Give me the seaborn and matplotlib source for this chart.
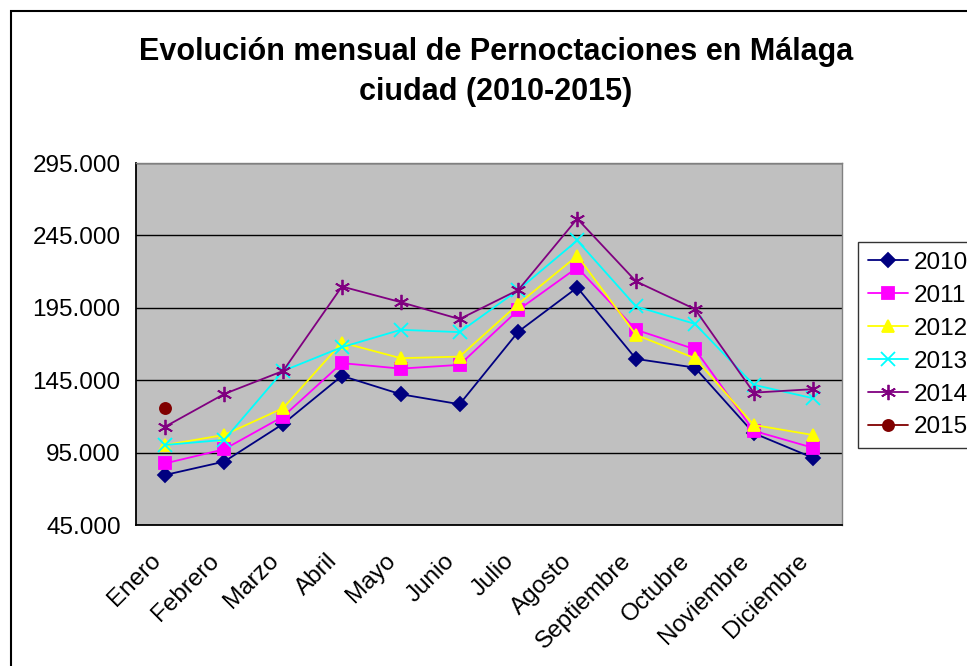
import numpy as np
import pandas as pd
import matplotlib
matplotlib.use('Agg')
import matplotlib.pyplot as plt
import matplotlib.ticker as mticker
import matplotlib.transforms as mtransforms
from matplotlib.patches import Rectangle
import seaborn as sns

# Data (pernoctaciones, in units)
meses = ['Enero', 'Febrero', 'Marzo', 'Abril', 'Mayo', 'Junio', 'Julio',
         'Agosto', 'Septiembre', 'Octubre', 'Noviembre', 'Diciembre']
v2010 = [79600, 88800, 114800, 148000, 135300, 128400, 178600, 209000, 159700, 153700, 108400, 91500]
v2011 = [87600, 97300, 119900, 156800, 153000, 155600, 193600, 222800, 179800, 166400, 110000, 98400]
v2012 = [100300, 107200, 125700, 171000, 160200, 161300, 197700, 230900, 176300, 160200, 114100, 107200]
v2013 = [100300, 103800, 151400, 167800, 179800, 178200, 207400, 241500, 195900, 183900, 141800, 132600]
v2014 = [113000, 135500, 151400, 209700, 198900, 187200, 207400, 256500, 213200, 194100, 136400, 138800]
v2015 = [125700]
years = ['2010', '2011', '2012', '2013', '2014', '2015']
series = [v2010, v2011, v2012, v2013, v2014, v2015]

colors = ['#000080', '#FF00FF', '#FFFF00', '#00FFFF', '#800080', '#800000']
markers = ['D', 's', '^', 'x', (6, 2, 0), 'o']
msizes = [7, 8, 9, 10, 11, 8]

sns.set_style('white')
plt.rcParams['font.family'] = ['Liberation Sans', 'DejaVu Sans']
plt.rcParams['text.color'] = 'black'
plt.rcParams['xtick.color'] = 'black'
plt.rcParams['ytick.color'] = 'black'

fig = plt.figure(figsize=(9.67, 6.66), dpi=100)
ax = fig.add_axes([136 / 967, 1 - 525 / 666, (842 - 136) / 967, (525 - 163) / 666])
ax.set_facecolor('#C0C0C0')

for yr, vals, c, m, ms in zip(years, series, colors, markers, msizes):
    d = pd.DataFrame({'mes': meses[:len(vals)], 'x': np.arange(len(vals)), 'v': vals})
    sns.lineplot(data=d, x='x', y='v', ax=ax, color=c, marker=m, markersize=ms,
                 markeredgecolor=c, markerfacecolor=c, markeredgewidth=1.3,
                 linewidth=1.3, label=yr, zorder=3)

ax.set_xlim(-0.5, 11.5)
ax.set_ylim(45000, 295000)
ax.set_yticks(np.arange(45000, 295001, 50000))
ax.yaxis.set_major_formatter(mticker.FuncFormatter(lambda v, p: f'{int(v):,}'.replace(',', '.')))
ax.grid(axis='y', color='black', linewidth=1.0, zorder=1)
ax.set_axisbelow(True)

ax.set_xticks(np.arange(12))
ax.set_xticklabels(meses, rotation=45, ha='right', va='top', rotation_mode='anchor')
ax.set_xticks(np.arange(-0.5, 12, 1), minor=True)
ax.tick_params(axis='x', which='major', length=0, pad=12, labelsize=17.5)
ax.tick_params(axis='x', which='minor', length=7, width=1.2, color='black', direction='out')
ax.tick_params(axis='y', length=7, width=1.2, color='black', direction='out', labelsize=17.5, pad=4)
ax.set_xlabel('')
ax.set_ylabel('')

# nudge month labels down-left like the original
shift = mtransforms.ScaledTranslation(-16 / 100, -8 / 100, fig.dpi_scale_trans)
for lbl in ax.get_xticklabels():
    lbl.set_transform(lbl.get_transform() + shift)

for s in ['left', 'bottom']:
    ax.spines[s].set_color('black')
    ax.spines[s].set_linewidth(1.3)
for s in ['top', 'right']:
    ax.spines[s].set_color('#808080')
    ax.spines[s].set_linewidth(1.0)

fig.text(0.5 * (140 + 852) / 967, 1 - 72 / 666,
         'Evolución mensual de Pernoctaciones en Málaga\nciudad (2010-2015)',
         ha='center', va='center', fontsize=22, fontweight='bold', linespacing=1.4)

leg = ax.legend(loc='upper left', bbox_to_anchor=(858 / 967, 1 - 242 / 666),
                bbox_transform=fig.transFigure, frameon=True, fancybox=False,
                fontsize=17.5, handlelength=1.65, handletextpad=0.25,
                labelspacing=0.45, borderpad=0.4, borderaxespad=0)
leg.get_frame().set_edgecolor('black')
leg.get_frame().set_linewidth(1.0)

fig.patches.append(Rectangle((11 / 967, -0.1), 1.2, 1 - 11 / 666 + 0.1,
                             transform=fig.transFigure, fill=False,
                             edgecolor='black', linewidth=1.5))

fig.savefig('out.png', dpi=100)
